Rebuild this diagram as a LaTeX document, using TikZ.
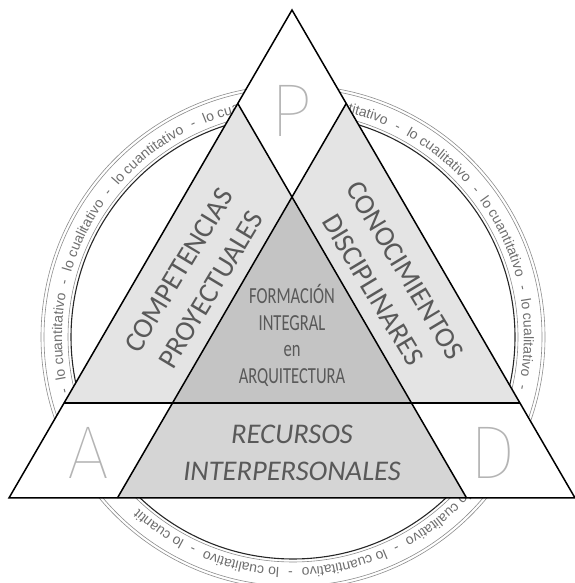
\documentclass[tikz,border=0pt]{standalone}
\usepackage{fontspec}
\usetikzlibrary{decorations.text}
\newfontfamily\carlito{Carlito}
\newfontfamily\narrowfont[FakeStretch=0.72]{Carlito}
\newfontfamily\ringfont{Liberation Sans}
\newfontfamily\thinfont{Fira Sans Thin}
\newcommand\ringsep{\hspace*{8.8pt}-\hspace*{8.8pt}}
\definecolor{ringgray}{HTML}{8C8C8C}
\definecolor{ringtext}{HTML}{6E6E6E}
\definecolor{lightfill}{HTML}{E4E4E4}
\definecolor{midfill}{HTML}{C4C4C4}
\definecolor{recfill}{HTML}{D5D5D5}
\definecolor{labelcol}{HTML}{595959}
\definecolor{lettercol}{HTML}{B4B4B4}
\tikzset{
  edge/.style={line width=1.5pt, black},
  ringline/.style={ringgray, line width=0.6pt},
  ringtextstyle/.style={shift={(O)}, decorate, decoration={text along path,
    text color=ringtext, text={#1}}},
  biglabel/.style={text=labelcol, align=center, inner sep=0pt,
    font=\carlito\fontsize{28.5}{37.5}\selectfont},
  centerlabel/.style={text=labelcol, align=center, inner sep=0pt,
    font=\narrowfont\fontsize{23}{26.5}\selectfont},
  reclabel/.style={text=labelcol, align=center, inner sep=0pt,
    font=\carlito\itshape\fontsize{28.5}{36.5}\selectfont},
  bigletter/.style={text=lettercol, inner sep=0pt, anchor=base,
    font=\thinfont\fontsize{75}{75}\selectfont}
}
\begin{document}
\begin{tikzpicture}[x=1pt,y=1pt]
\useasboundingbox (0,0) rectangle (574,583);
% ring
\coordinate (O) at (293,246);
\draw[ringline] (O) circle[radius=252];
\draw[ringline] (O) circle[radius=249];
\draw[ringline] (O) circle[radius=225];
\draw[black!85, line width=1.1pt] (O) circle[radius=222];
% ring text, only on the arcs that show
\path[ringtextstyle={|\ringfont\fontsize{14}{14}\selectfont|{\ringsep}lo cuantitativo{\ringsep}lo cualitativo{\ringsep}lo cuantitativo{\ringsep}lo cua}]
  (196.1:231) arc[start angle=196.1, end angle=95, radius=231];
\path[ringtextstyle={|\ringfont\fontsize{14}{14}\selectfont|titativo{\ringsep}lo cualitativo{\ringsep}lo cuantitativo{\ringsep}lo cualitativo{\ringsep}}]
  (76.35:231) arc[start angle=76.35, end angle=-22, radius=231];
\path[ringtextstyle={|\ringfont\fontsize{14}{14}\selectfont|lo cualitativo{\ringsep}lo cuantitativo{\ringsep}lo cualitativo{\ringsep}lo cuantit}]
  (-41.97:231) arc[start angle=-41.97, end angle=-145, radius=231];
% triangle vertices
\coordinate (T) at (292,573);
\coordinate (L) at (237.77,479.5);
\coordinate (R) at (346.23,479.5);
\coordinate (C) at (292,386);
\coordinate (OL) at (64.06,180);
\coordinate (CL) at (172.52,180);
\coordinate (CR) at (411.48,180);
\coordinate (OR) at (519.94,180);
\coordinate (BL) at (8.96,85);
\coordinate (BLi) at (117.42,85);
\coordinate (BRi) at (466.58,85);
\coordinate (BR) at (575.04,85);
% fills
\fill[white] (T) -- (BL) -- (BR) -- cycle;
\fill[lightfill] (L) -- (C) -- (CL) -- (OL) -- cycle;
\fill[lightfill] (R) -- (OR) -- (CR) -- (C) -- cycle;
\fill[midfill] (C) -- (CL) -- (CR) -- cycle;
\fill[recfill] (CL) -- (CR) -- (BRi) -- (BLi) -- cycle;
% lines
\draw[edge] (T) -- (BL) -- (BR) -- cycle;
\draw[edge] (OL) -- (OR);
\draw[edge] (L) -- (BRi);
\draw[edge] (R) -- (BLi);
% labels
\node[biglabel, rotate=59] (comp) at (195,303) {COMPETENCIAS\\PROYECTUALES};
\node[biglabel, rotate=-59] (cono) at (389,303) {CONOCIMIENTOS\\DISCIPLINARES};
\node[centerlabel] (form) at (292,247.5) {FORMACIÓN\\INTEGRAL\\en\\ARQUITECTURA};
\node[reclabel] (recu) at (292,130.25) {RECURSOS\\INTERPERSONALES};
\node[bigletter] (P) at (291,446) {P};
\node[bigletter] (A) at (88,104.7) {A};
\node[bigletter] (D) at (493,104.5) {D};
\end{tikzpicture}
\end{document}
